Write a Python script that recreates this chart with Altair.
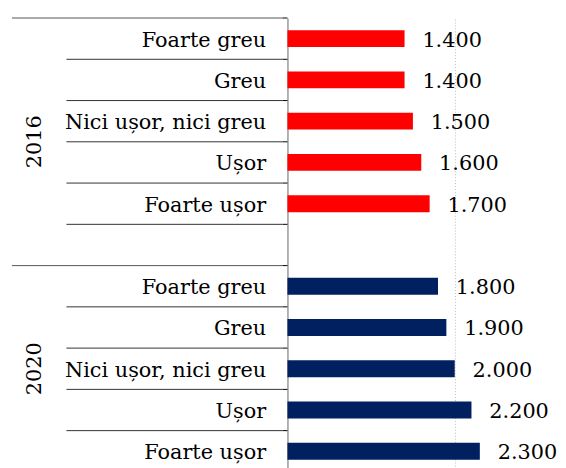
import altair as alt
import pandas as pd

years = ["2016", "2020"]
categories = ["Foarte greu", "Greu", "Nici ușor, nici greu", "Ușor", "Foarte ușor"]
values_2016 = [1400, 1400, 1500, 1600, 1700]
values_2020 = [1800, 1900, 2000, 2200, 2300]
year_colors = ["#FF0000", "#002060"]

FONT = "DejaVu Serif"
FS = 21

keys = []
bar_rows = []
for yr, vals in zip(years, [values_2016, values_2020]):
    for c, v in zip(categories, vals):
        k = f"{yr}|{c}"
        keys.append(k)
        bar_rows.append({"key": k, "year": yr, "value": v,
                         "label": f"{v:,}".replace(",", ".")})
    if yr == years[0]:
        keys.append(f"{yr}|")

bars_df = pd.DataFrame(bar_rows)
group_start = [f"{yr}|{categories[0]}" for yr in years]
sep_df = pd.DataFrame({"key": keys,
                       "long": [k in group_start for k in keys]})

yscale = alt.Scale(domain=keys, paddingInner=0, paddingOuter=0)

base_y = alt.Y("key:N", sort=keys, scale=yscale,
               axis=alt.Axis(title=None,
                             labelExpr="split(datum.value, '|')[1]",
                             ticks=False, labelPadding=22, labelOffset=2,
                             labelFont=FONT, labelFontSize=FS,
                             labelColor="#000000", labelLimit=400,
                             domainColor="#999999", domainWidth=1.5))

xenc = alt.X("value:Q", scale=alt.Scale(domain=[0, 2500], nice=False),
             axis=alt.Axis(values=[2000], grid=True, gridDash=[1, 2],
                           gridColor="#bbbbbb", labels=False, ticks=False,
                           domain=False, title=None))

bars = alt.Chart(bars_df).mark_bar(size=17).encode(
    x=xenc,
    y=base_y,
    color=alt.Color("year:N", scale=alt.Scale(domain=years, range=year_colors),
                    legend=None),
)

labels = alt.Chart(bars_df).mark_text(align="left", baseline="middle", dx=18, dy=2,
                                      font=FONT, fontSize=FS, color="#000000").encode(
    x="value:Q",
    y=alt.Y("key:N", sort=keys),
    text="label:N",
)

ysep = alt.Y("key:N", sort=keys, bandPosition=0)

long_sep = alt.Chart(sep_df).transform_filter("datum.long").mark_rule(
    color="#555555", strokeWidth=1).encode(
    y=ysep, x=alt.value(-278), x2=alt.value(-5))

short_sep = alt.Chart(sep_df).transform_filter("!datum.long").mark_rule(
    color="#333333", strokeWidth=1).encode(
    y=ysep, x=alt.value(-223), x2=alt.value(-5))

ticks = alt.Chart(sep_df).mark_rule(color="#000000", strokeWidth=1).encode(
    y=ysep, x=alt.value(-5), x2=alt.value(0))

g1 = pd.DataFrame({"key": [f"{years[0]}|{categories[3]}"], "t": [years[0]]})
g2 = pd.DataFrame({"key": [f"{years[1]}|{categories[2]}"], "t": [years[1]]})

grp1 = alt.Chart(g1).mark_text(angle=270, align="center", baseline="middle",
                               font=FONT, fontSize=FS, color="#000000").encode(
    y=alt.Y("key:N", sort=keys, bandPosition=0), x=alt.value(-255), text="t:N")
grp2 = alt.Chart(g2).mark_text(angle=270, align="center", baseline="middle",
                               font=FONT, fontSize=FS, color="#000000").encode(
    y=alt.Y("key:N", sort=keys, bandPosition=0.5), x=alt.value(-255), text="t:N")

chart = alt.layer(long_sep, short_sep, ticks, bars, labels, grp1, grp2).properties(
    width=211, height=458,
    padding={"left": 282, "top": 8, "right": 62, "bottom": 0},
    autosize="none",
).configure_view(stroke=None)

chart.save("out.html", embed_options={"renderer": "svg", "actions": False})
